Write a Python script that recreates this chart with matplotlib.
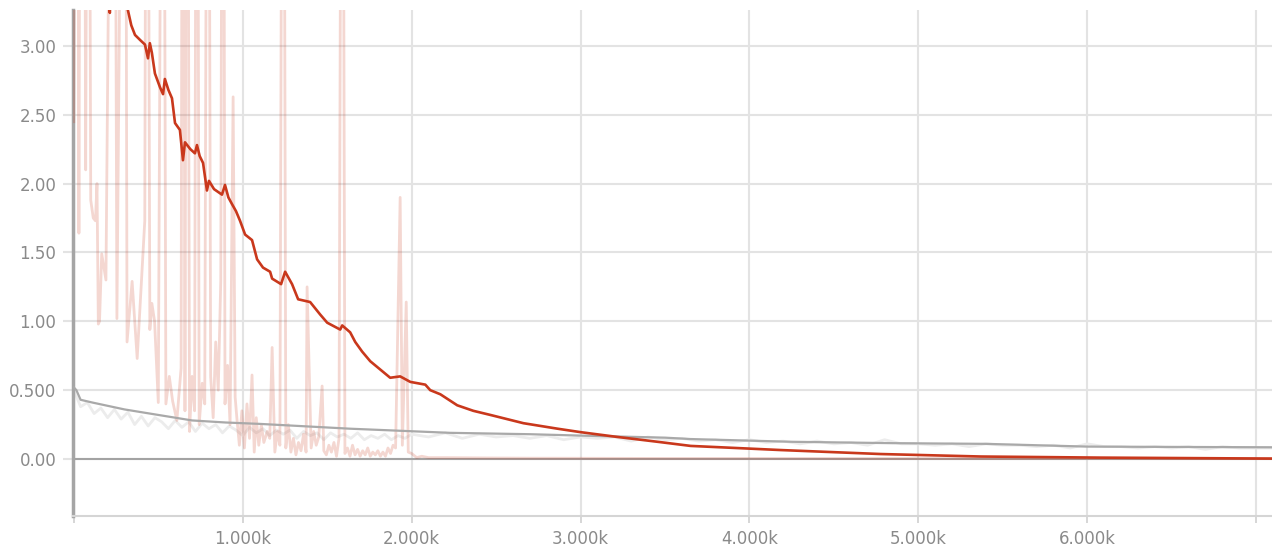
import matplotlib
matplotlib.use("Agg")
import matplotlib.pyplot as plt
from matplotlib.ticker import FixedLocator, FixedFormatter

# red run: raw (faint) and smoothed values
red_raw_steps = [0, 18, 30, 42, 58, 70, 85, 100, 115, 128, 137, 145, 152, 165, 190, 237,
                 255, 302, 315, 345, 375, 420, 433, 450, 462, 478, 500, 528, 545, 565,
                 585, 610, 635, 646, 658, 670, 685, 700, 715, 729, 742, 760, 775, 794,
                 810, 825, 840, 855, 870, 883, 895, 910, 925, 943, 955, 965, 980, 995,
                 1010, 1025, 1040, 1055, 1068, 1080, 1095, 1110, 1125, 1145, 1160, 1174,
                 1190, 1205, 1220, 1239, 1255, 1270, 1285, 1300, 1315, 1330, 1345, 1360,
                 1375, 1381, 1405, 1420, 1435, 1450, 1470, 1480, 1495, 1510, 1525, 1540,
                 1555, 1570, 1589, 1605, 1620, 1635, 1650, 1665, 1680, 1695, 1710, 1725,
                 1740, 1755, 1770, 1785, 1800, 1815, 1830, 1845, 1860, 1875, 1890, 1905,
                 1932, 1945, 1968, 1980, 2000, 2030, 2060, 2100, 2200, 2400, 2700, 3000,
                 3500, 4000, 5000, 6000, 7100]
red_raw_vals = [2.45, 8.0, 1.64, 8.0, 8.0, 2.10, 8.0, 1.88, 1.75, 1.73, 2.00, 0.98, 1.00,
                1.49, 1.30, 8.0, 1.02, 8.0, 0.85, 1.29, 0.73, 1.73, 8.0, 0.94, 1.13, 1.00,
                0.41, 8.0, 0.40, 0.60, 0.42, 0.28, 0.66, 8.0, 0.35, 8.0, 0.20, 0.60, 0.35,
                8.0, 0.25, 0.55, 0.40, 8.0, 0.60, 0.30, 0.85, 0.50, 1.30, 8.0, 0.40, 0.68,
                0.25, 2.63, 0.45, 0.30, 0.10, 0.35, 0.08, 0.40, 0.15, 0.61, 0.05, 0.30,
                0.10, 0.25, 0.12, 0.20, 0.15, 0.81, 0.05, 0.20, 0.10, 8.0, 0.08, 0.25,
                0.05, 0.15, 0.03, 0.12, 0.06, 0.18, 0.05, 1.25, 0.08, 0.20, 0.10, 0.16,
                0.53, 0.06, 0.03, 0.10, 0.05, 0.12, 0.02, 0.15, 8.0, 0.04, 0.08, 0.02,
                0.10, 0.03, 0.07, 0.02, 0.06, 0.03, 0.08, 0.02, 0.05, 0.03, 0.06, 0.02,
                0.05, 0.02, 0.08, 0.04, 0.10, 0.08, 1.90, 0.10, 1.14, 0.05, 0.04, 0.01,
                0.02, 0.01, 0.01, 0.008, 0.006, 0.005, 0.004, 0.004, 0.003, 0.003, 0.003]

red_smooth_steps = [0, 30, 70, 100, 150, 190, 213, 225, 260, 300, 320, 340, 362, 395, 421,
                    439, 450, 462, 480, 510, 528, 539, 560, 581, 599, 628, 646, 658, 690,
                    717, 729, 745, 765, 788, 800, 830, 877, 895, 915, 937, 960, 984, 1014,
                    1055, 1085, 1120, 1162, 1174, 1227, 1251, 1292, 1328, 1399, 1458, 1500,
                    1577, 1589, 1636, 1666, 1707, 1755, 1814, 1873, 1932, 1992, 2081, 2110,
                    2170, 2270, 2365, 2466, 2662, 2864, 3000, 3219, 3456, 3652, 4185, 4778,
                    5371, 6082, 7100]
red_smooth_vals = [5.0, 5.5, 5.2, 5.6, 4.5, 3.6, 3.24, 3.5, 3.6, 3.5, 3.26, 3.15, 3.08,
                   3.04, 3.01, 2.91, 3.02, 2.95, 2.80, 2.70, 2.65, 2.76, 2.68, 2.62, 2.44,
                   2.39, 2.17, 2.30, 2.25, 2.22, 2.28, 2.20, 2.15, 1.95, 2.02, 1.96, 1.92,
                   1.99, 1.90, 1.85, 1.80, 1.73, 1.63, 1.59, 1.45, 1.39, 1.36, 1.31, 1.27,
                   1.36, 1.27, 1.16, 1.14, 1.05, 0.99, 0.94, 0.97, 0.92, 0.85, 0.78, 0.71,
                   0.65, 0.59, 0.60, 0.56, 0.54, 0.50, 0.47, 0.39, 0.35, 0.32, 0.26, 0.22,
                   0.195, 0.16, 0.125, 0.095, 0.065, 0.036, 0.018, 0.010, 0.003]

# gray run: raw (faint) and smoothed values
gray_raw_steps = [0, 40, 80, 120, 160, 200, 240, 280, 320, 360, 400, 440, 480, 520, 560,
                  600, 640, 680, 720, 760, 800, 840, 880, 920, 960, 1000, 1040, 1080, 1120,
                  1160, 1200, 1240, 1280, 1320, 1360, 1400, 1440, 1480, 1520, 1560, 1600,
                  1640, 1680, 1720, 1760, 1800, 1840, 1880, 1920, 1960, 2000, 2100, 2200,
                  2300, 2400, 2500, 2600, 2700, 2800, 2900, 3000, 3100, 3200, 3300, 3400,
                  3500, 3600, 3700, 3800, 3900, 4000, 4100, 4200, 4300, 4400, 4500, 4600,
                  4700, 4800, 4900, 5000, 5100, 5200, 5300, 5400, 5500, 5600, 5700, 5800,
                  5900, 6000, 6100, 6200, 6300, 6400, 6500, 6600, 6700, 6800, 6900, 7000,
                  7100]
gray_raw_vals = [0.50, 0.38, 0.41, 0.33, 0.37, 0.30, 0.36, 0.29, 0.34, 0.25, 0.31, 0.24,
                 0.30, 0.27, 0.22, 0.28, 0.23, 0.27, 0.20, 0.26, 0.22, 0.25, 0.19, 0.24,
                 0.21, 0.17, 0.23, 0.19, 0.22, 0.17, 0.21, 0.18, 0.21, 0.15, 0.20, 0.17,
                 0.19, 0.14, 0.19, 0.16, 0.18, 0.15, 0.19, 0.14, 0.17, 0.15, 0.18, 0.14,
                 0.17, 0.15, 0.18, 0.16, 0.19, 0.15, 0.18, 0.16, 0.17, 0.15, 0.17, 0.14,
                 0.16, 0.15, 0.16, 0.13, 0.16, 0.14, 0.15, 0.13, 0.14, 0.12, 0.14, 0.12,
                 0.13, 0.11, 0.13, 0.11, 0.12, 0.10, 0.14, 0.11, 0.11, 0.10, 0.11, 0.09,
                 0.11, 0.10, 0.10, 0.09, 0.10, 0.08, 0.11, 0.09, 0.09, 0.08, 0.09, 0.08,
                 0.09, 0.07, 0.09, 0.08, 0.08, 0.08]

gray_smooth_steps = [0, 15, 40, 110, 300, 500, 700, 900, 1000, 1100, 1636, 2229, 2700,
                     3000, 3500, 3650, 4250, 4850, 5400, 6000, 7100]
gray_smooth_vals = [0.52, 0.50, 0.43, 0.41, 0.36, 0.32, 0.28, 0.265, 0.26, 0.255, 0.22,
                    0.19, 0.18, 0.17, 0.155, 0.145, 0.125, 0.115, 0.11, 0.09, 0.085]

x_ticks = [0, 1000, 2000, 3000, 4000, 5000, 6000, 7000]
x_labels = ["", "1.000k", "2.000k", "3.000k", "4.000k", "5.000k", "6.000k", ""]
y_ticks = [0.0, 0.5, 1.0, 1.5, 2.0, 2.5, 3.0]
y_labels = ["0.00", "0.500", "1.00", "1.50", "2.00", "2.50", "3.00"]

RED = "#c9381c"
GRID = "#e3e3e3"
TEXT = "#8a8a8a"

fig = plt.figure(figsize=(12.72, 5.46), dpi=100)
ax = fig.add_axes([73 / 1272, 30 / 546, 1 - 73 / 1272, 506 / 546])

ax.plot(gray_raw_steps, gray_raw_vals, color="#ececec", lw=2.0, zorder=2)
ax.plot(red_raw_steps, red_raw_vals, color=RED, alpha=0.2, lw=2.0, zorder=3)
ax.plot(gray_smooth_steps, gray_smooth_vals, color="#a9a9a9", lw=1.6, zorder=4)
ax.plot(red_smooth_steps, red_smooth_vals, color=RED, lw=1.9, zorder=5)
ax.axhline(0, color="#a3a3a3", lw=1.5, zorder=1)

ax.set_xlim(-5, 7094)
ax.set_ylim(-0.414, 3.261)

ax.xaxis.set_major_locator(FixedLocator(x_ticks))
ax.xaxis.set_major_formatter(FixedFormatter(x_labels))
ax.yaxis.set_major_locator(FixedLocator(y_ticks))
ax.yaxis.set_major_formatter(FixedFormatter(y_labels))
ax.grid(True, color=GRID, lw=1.5, zorder=0)
ax.set_axisbelow(True)

ax.tick_params(axis="x", length=5, width=1.2, color="#d0d0d0", pad=5,
               labelsize=12, labelcolor=TEXT)
ax.tick_params(axis="y", length=7, width=1.5, color=GRID, pad=5,
               labelsize=12, labelcolor=TEXT)

for side in ("top", "right"):
    ax.spines[side].set_visible(False)
ax.spines["left"].set_color("#a5a5a5")
ax.spines["left"].set_linewidth(2.5)
ax.spines["bottom"].set_color("#d5d5d5")
ax.spines["bottom"].set_linewidth(1.5)

fig.savefig("out.png", dpi=100)
